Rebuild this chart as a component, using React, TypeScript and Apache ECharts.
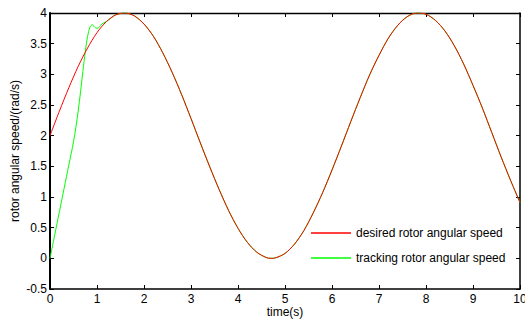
import React, { useEffect, useRef } from "react";
import * as echarts from "echarts";

const timeSteps: number[] = [
  0, 0.2, 0.4, 0.6, 0.8, 1.0, 1.2, 1.4, 1.6, 1.8, 2.0, 2.2, 2.4, 2.6, 2.8, 3.0, 3.2, 3.4, 3.6, 3.8,
  4.0, 4.2, 4.4, 4.6, 4.7, 4.8, 5.0, 5.2, 5.4, 5.6, 5.8, 6.0, 6.2, 6.4, 6.6, 6.8, 7.0, 7.2, 7.4, 7.6, 7.8,
  8.0, 8.2, 8.4, 8.6, 8.8, 9.0, 9.2, 9.4, 9.6, 9.8, 10.0,
];

const desiredSpeed: number[] = [
  2.0, 2.4, 2.78, 3.13, 3.43, 3.68, 3.86, 3.97, 4.0, 3.95, 3.82, 3.62, 3.35, 3.03, 2.67, 2.28, 1.88,
  1.49, 1.12, 0.78, 0.49, 0.26, 0.1, 0.013, 0.0, 0.008, 0.08, 0.23, 0.45, 0.74, 1.07, 1.44, 1.83, 2.23, 2.62,
  2.99, 3.31, 3.59, 3.8, 3.94, 4.0, 3.98, 3.88, 3.71, 3.47, 3.17, 2.82, 2.45, 2.05, 1.65, 1.27, 0.91,
];

// transient part of the tracking curve (time, value)
const trackingStartTime: number[] = [0, 0.1, 0.2, 0.3, 0.4, 0.5, 0.6, 0.7, 0.75, 0.8, 0.85, 0.9, 0.95, 1.0, 1.05, 1.1];
const trackingStartValue: number[] = [0, 0.38, 0.76, 1.14, 1.52, 1.9, 2.4, 3.05, 3.37, 3.62, 3.77, 3.81, 3.77, 3.75, 3.77, 3.82];
// after t = 1.2 s the tracking speed follows the desired speed
const trackingJoinIndex = 6;

const xTicks = { min: 0, max: 10, interval: 1 };
const yTicks = { min: -0.5, max: 4, interval: 0.5 };

const FONT = "Liberation Sans, Arial, sans-serif";

export default function App() {
  const ref = useRef<HTMLDivElement>(null);

  useEffect(() => {
    if (!ref.current) return;
    const chart = echarts.init(ref.current, undefined, { renderer: "svg" });

    const desiredData = timeSteps.map((t, i) => [t, desiredSpeed[i]]);
    const trackingData = [
      ...trackingStartTime.map((t, i) => [t, trackingStartValue[i]]),
      ...timeSteps.slice(trackingJoinIndex).map((t, i) => [t, desiredSpeed[i + trackingJoinIndex]]),
    ];

    const axisLine = (w: number) => ({ show: true, onZero: false, lineStyle: { color: "#000", width: w } });
    const axisTick = { show: true, inside: true, length: 4, lineStyle: { color: "#000", width: 1 } };
    const label = { color: "#000", fontSize: 12, fontFamily: FONT };
    const nameStyle = { color: "#000", fontSize: 12, fontFamily: FONT };

    chart.setOption({
      animation: false,
      backgroundColor: "#fff",
      textStyle: { fontFamily: FONT },
      grid: {
        left: 50,
        right: 5,
        top: 13,
        bottom: 31,
        containLabel: false,
        outerBoundsMode: "none",
      },
      legend: {
        orient: "vertical",
        left: 306,
        top: 222,
        itemWidth: 40,
        itemHeight: 1.5,
        itemGap: 13,
        icon: "rect",
        textStyle: { color: "#000", fontSize: 12, fontFamily: FONT },
        data: ["desired rotor angular speed", "tracking rotor angular speed"],
      },
      xAxis: [
        {
          type: "value",
          ...xTicks,
          name: "time(s)",
          nameLocation: "middle",
          nameGap: 17,
          nameMoveOverlap: false,
          nameTextStyle: nameStyle,
          axisLine: axisLine(1.5),
          axisTick,
          axisLabel: { ...label, margin: 4 },
          splitLine: { show: false },
        },
        {
          type: "value",
          position: "top",
          ...xTicks,
          axisLine: axisLine(1.3),
          axisTick,
          axisLabel: { show: false },
          splitLine: { show: false },
        },
      ],
      yAxis: [
        {
          type: "value",
          ...yTicks,
          name: "rotor angular speed/(rad/s)",
          nameLocation: "middle",
          nameGap: 29,
          nameMoveOverlap: false,
          nameTextStyle: nameStyle,
          axisLine: axisLine(2),
          axisTick,
          axisLabel: { ...label, margin: 3 },
          splitLine: { show: false },
        },
        {
          type: "value",
          position: "right",
          ...yTicks,
          axisLine: axisLine(1.5),
          axisTick,
          axisLabel: { show: false },
          splitLine: { show: false },
        },
      ],
      series: [
        {
          name: "tracking rotor angular speed",
          type: "line",
          data: trackingData,
          smooth: 0.3,
          showSymbol: false,
          color: "#00ff00",
          lineStyle: { color: "#00ff00", width: 1 },
          z: 2,
        },
        {
          name: "desired rotor angular speed",
          type: "line",
          data: desiredData,
          smooth: 0.3,
          showSymbol: false,
          color: "#ff0000",
          lineStyle: { color: "#ff0000", width: 1 },
          z: 3,
        },
      ],
    });

    return () => chart.dispose();
  }, []);

  return (
    <div
      ref={ref}
      style={{ position: "fixed", left: 0, top: 0, width: 525, height: 320, background: "#fff" }}
    />
  );
}
